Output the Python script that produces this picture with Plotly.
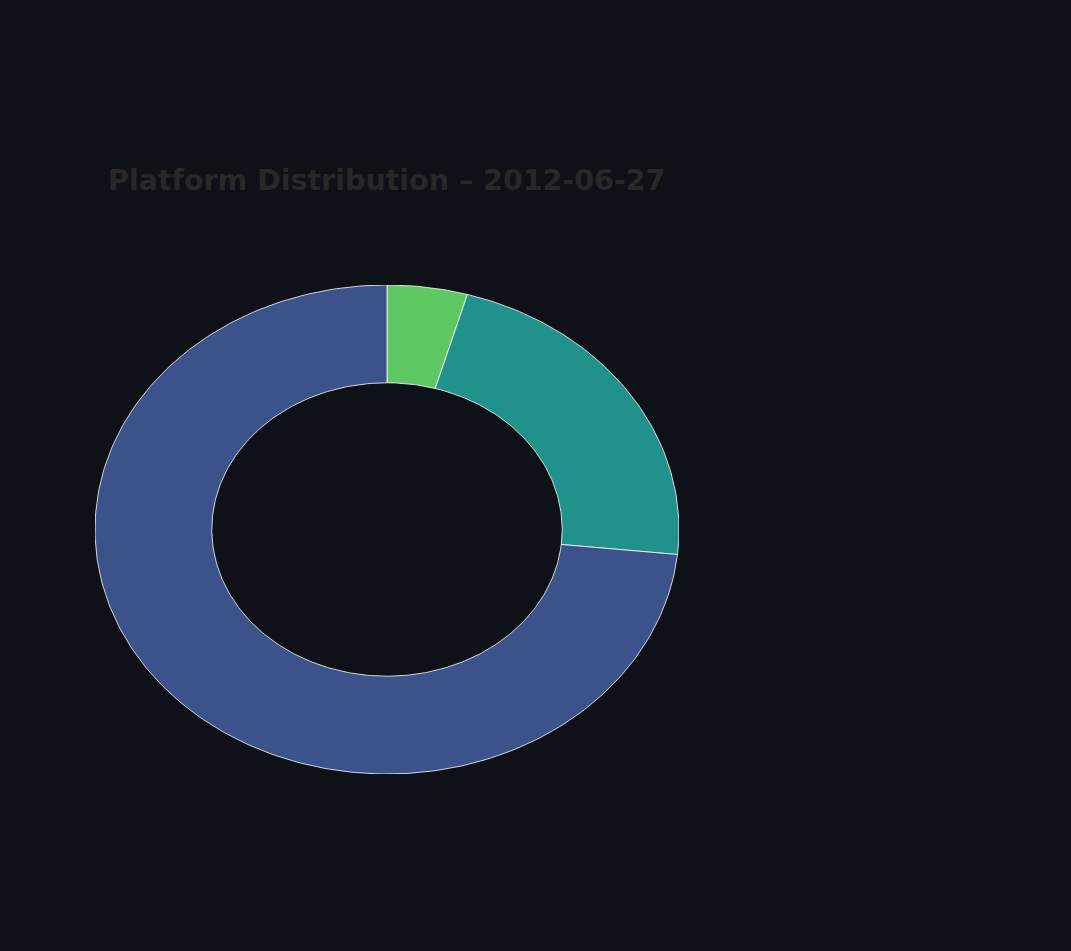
import numpy as np
import plotly.graph_objects as go

# ---- data ----
labels = ["Mobile", "Tablet", "Desktop"]
values = [4.44, 22.19, 73.37]
colors = ["#5ec962", "#21918c", "#3b528b"]
title_text = "Platform Distribution – 2012-06-27"

hole = 0.6
bg = "#0e1117"

fig = go.Figure()
total = float(sum(values))
start = 0.0
for lab, val, col in zip(labels, values, colors):
    frac = val / total
    t0, t1 = start * 2 * np.pi, (start + frac) * 2 * np.pi
    n = max(8, int(400 * frac))
    th = np.linspace(t0, t1, n)
    xo, yo = np.sin(th), np.cos(th)
    xi, yi = hole * np.sin(th[::-1]), hole * np.cos(th[::-1])
    xs = np.concatenate([xo, xi, xo[:1]])
    ys = np.concatenate([yo, yi, yo[:1]])
    fig.add_trace(go.Scatter(
        x=xs, y=ys, mode="lines", fill="toself", fillcolor=col,
        line=dict(color="white", width=0.8), name=lab,
        hoveron="fills", text=f"{lab}: {val:.1f}%", hoverinfo="text",
    ))
    start += frac

fig.update_layout(
    width=1071, height=951,
    paper_bgcolor=bg, plot_bgcolor=bg,
    margin=dict(l=95, r=392, t=285, b=177),
    showlegend=False,
    title=dict(
        text=title_text, x=108 / 1071, xref="container", xanchor="left",
        y=1 - 180 / 951, yref="container", yanchor="middle",
        font=dict(family="DejaVu Sans", size=28.5, color="#282828", weight="bold"),
    ),
    xaxis=dict(visible=False, range=[-1, 1], fixedrange=True),
    yaxis=dict(visible=False, range=[-1, 1], fixedrange=True),
)

fig.write_html("out.html")
